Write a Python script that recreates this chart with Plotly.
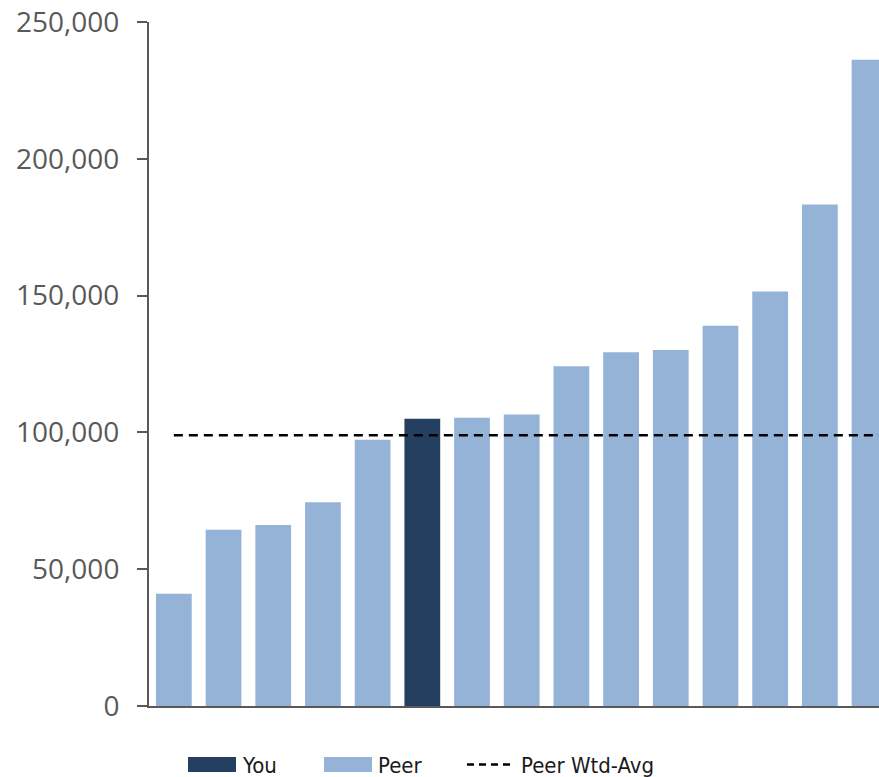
import plotly.graph_objects as go

# Institutions, sorted by value; the sixth one is "You"
institutions = ["Peer A", "Peer B", "Peer C", "Peer D", "Peer E", "You",
                "Peer F", "Peer G", "Peer H", "Peer I", "Peer J", "Peer K",
                "Peer L", "Peer M", "Peer N"]
values = [41000, 64400, 66200, 74500, 97300, 105000, 105400, 106500,
          124200, 129300, 130100, 139000, 151500, 183300, 236200]
peer_wtd_avg = 99000
y_ticks = [0, 50000, 100000, 150000, 200000, 250000]

YOU_COLOR = "#243F60"
PEER_COLOR = "#95B3D7"
AXIS_COLOR = "#595959"

W, H = 879, 777
L, R, T, B = 149, 0, 22, 71
X_MAX = 14.19  # right end of the category axis


def px_x(p):
    return (p - L) / (W - L - R)


def px_y(p):
    return 1 - (p - T) / (H - T - B)


idx = list(range(len(institutions)))
colors = [YOU_COLOR if n == "You" else PEER_COLOR for n in institutions]

fig = go.Figure()
fig.add_trace(go.Bar(
    x=idx, y=values, marker=dict(color=colors, line=dict(width=0)),
    width=0.72, showlegend=False, hovertext=institutions,
))

# Weighted average of the peer group, drawn across the categories
fig.add_shape(type="line", xref="x", yref="y", x0=0, x1=X_MAX,
              y0=peer_wtd_avg, y1=peer_wtd_avg,
              line=dict(color="black", width=2.5, dash="9px,6px"))

# Legend along the bottom
leg_y0, leg_y1 = 757, 772
for x0, x1, col in [(188, 236, YOU_COLOR), (324, 372, PEER_COLOR)]:
    fig.add_shape(type="rect", xref="paper", yref="paper",
                  x0=px_x(x0), x1=px_x(x1), y0=px_y(leg_y1), y1=px_y(leg_y0),
                  fillcolor=col, line=dict(width=0))
fig.add_shape(type="line", xref="paper", yref="paper",
              x0=px_x(467), x1=px_x(511), y0=px_y(764.5), y1=px_y(764.5),
              line=dict(color="black", width=2.5, dash="7px,5px"))
legend_font = dict(family="Liberation Sans Narrow, DejaVu Sans Condensed, Open Sans",
                   size=22, color="#1a1a1a")
for x, text in [(240, "You"), (376, "Peer"), (519, "Peer Wtd-Avg")]:
    fig.add_annotation(xref="paper", yref="paper", x=px_x(x), y=px_y(765),
                       text=text, showarrow=False, xanchor="left",
                       yanchor="middle", font=legend_font)

fig.update_xaxes(range=[-0.5, X_MAX], showticklabels=False, ticks="",
                 showgrid=False, zeroline=False, showline=True,
                 linecolor=AXIS_COLOR, linewidth=2)
fig.update_yaxes(range=[0, 250000], tickvals=y_ticks,
                 ticktext=[f"{v:,}" for v in y_ticks],
                 ticks="outside", ticklen=10, tickwidth=2, tickcolor=AXIS_COLOR,
                 showgrid=False, zeroline=False, showline=True,
                 linecolor=AXIS_COLOR, linewidth=2, ticklabelstandoff=12,
                 tickfont=dict(family="Open Sans", size=28, color=AXIS_COLOR))

fig.update_layout(width=W, height=H, margin=dict(l=L, r=R, t=T, b=B),
                  plot_bgcolor="white", paper_bgcolor="white",
                  showlegend=False, bargap=0.28)

fig.write_html("out.html")
